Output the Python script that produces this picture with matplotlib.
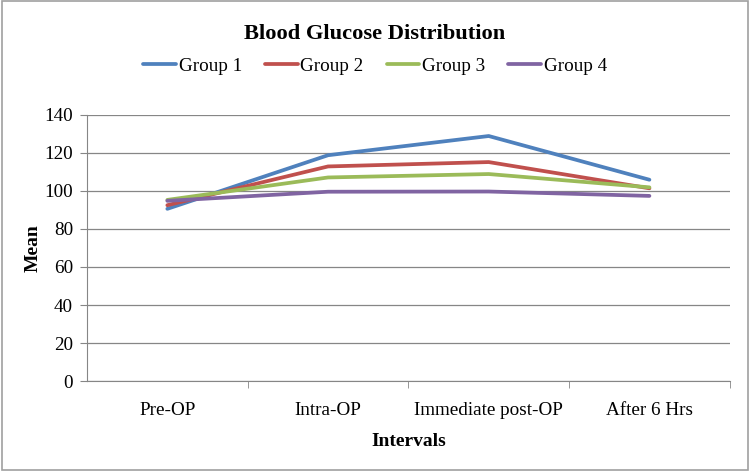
import matplotlib
matplotlib.use("Agg")
import matplotlib.pyplot as plt
from matplotlib.patches import Rectangle

# categories and group means
intervals = ["Pre-OP", "Intra-OP", "Immediate post-OP", "After 6 Hrs"]
group1 = [90.6, 118.8, 128.9, 105.9]
group2 = [92.5, 112.9, 115.2, 101.4]
group3 = [95.3, 107.1, 108.9, 101.9]
group4 = [94.8, 99.6, 99.7, 97.4]
labels = ["Group 1", "Group 2", "Group 3", "Group 4"]
colors = ["#4F81BD", "#C0504D", "#9BBB59", "#8064A2"]

plt.rcParams['font.family'] = ['Liberation Serif', 'DejaVu Serif']

fig = plt.figure(figsize=(7.5, 4.71), dpi=100)
ax = fig.add_axes([0.116, 0.191, 0.857, 0.565])

x = range(len(intervals))
for vals, lab, col in zip([group1, group2, group3, group4], labels, colors):
    ax.plot(x, vals, color=col, lw=2.7, label=lab, solid_capstyle='round')

ax.set_xlim(-0.5, len(intervals) - 0.5)
ax.set_ylim(0, 140)
ax.set_yticks(range(0, 141, 20))
ax.yaxis.grid(True, color="#868686", lw=0.9)
ax.set_axisbelow(True)

ax.set_xticks(list(x))
ax.set_xticklabels(intervals, fontsize=13.8)
ax.set_xticks([i + 0.5 for i in x], minor=True)
ax.tick_params(axis='x', which='major', length=0, pad=15)
ax.tick_params(axis='x', which='minor', length=5, color="#868686")
ax.tick_params(axis='y', length=5, color="#868686", labelsize=13.8, pad=5)

for s in ["top", "right"]:
    ax.spines[s].set_visible(False)
for s in ["left", "bottom"]:
    ax.spines[s].set_color("#868686")

ax.set_xlabel("Intervals", fontsize=14, fontweight='bold', labelpad=10)
ax.set_ylabel("Mean", fontsize=14, fontweight='bold', labelpad=2)

fig.text(0.5, 0.927, "Blood Glucose Distribution", ha='center', va='center',
         fontsize=16.2, fontweight='bold')
fig.legend(loc='center', bbox_to_anchor=(0.5, 0.86), ncol=4, frameon=False,
           fontsize=13.8, handlelength=1.7, handletextpad=0.15, columnspacing=1.2)

fig.patches.append(Rectangle((0.002, 0.003), 0.995, 0.994, transform=fig.transFigure,
                             fill=False, edgecolor="#a0a0a0", lw=1.2))

fig.savefig("out.png", dpi=100)
